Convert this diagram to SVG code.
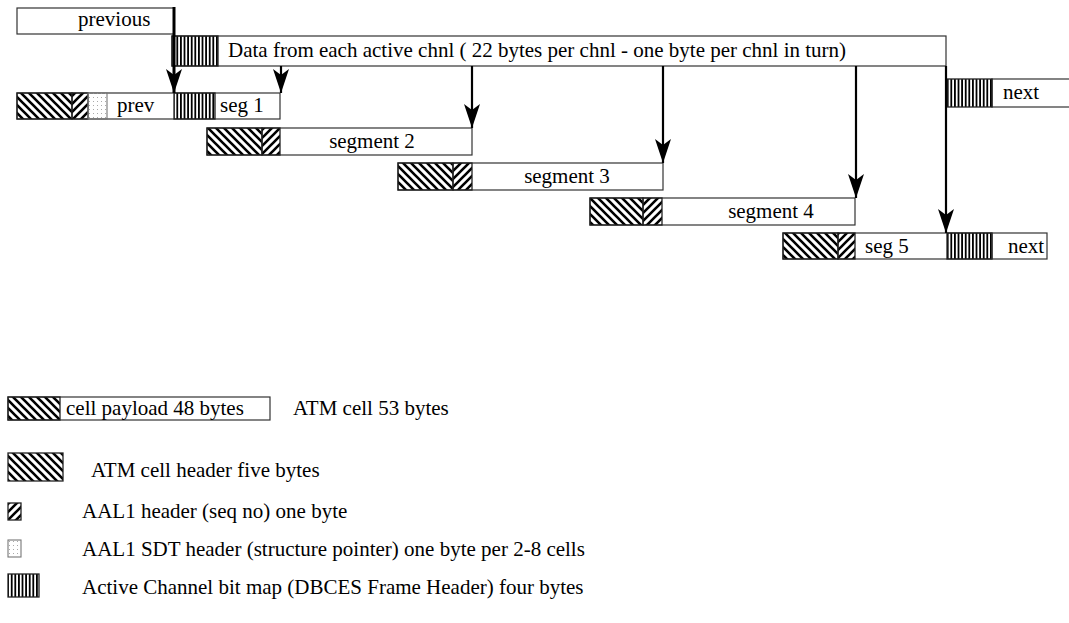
<svg xmlns="http://www.w3.org/2000/svg" width="1069" height="623" viewBox="0 0 1069 623">
<defs>
<pattern id="hb" patternUnits="userSpaceOnUse" width="8" height="8">
<path d="M-2,-2 L10,10 M-2,6 L2,10 M6,-2 L10,2" stroke="#000" stroke-width="2.6"/>
</pattern>
<pattern id="hf" patternUnits="userSpaceOnUse" width="8" height="8">
<path d="M-2,10 L10,-2 M-2,2 L2,-2 M6,10 L10,6" stroke="#000" stroke-width="2.6"/>
</pattern>
<pattern id="vb" patternUnits="userSpaceOnUse" width="3.6" height="10">
<rect x="0" y="0" width="1.8" height="10" fill="#000"/>
</pattern>
<pattern id="dt" patternUnits="userSpaceOnUse" width="4" height="4">
<rect x="1" y="1" width="1" height="1" fill="#aaa"/>
</pattern>
<marker id="ah" markerUnits="userSpaceOnUse" markerWidth="26" markerHeight="18" refX="24" refY="8" orient="auto" overflow="visible">
<path d="M0,0 L24,8 L0,16 L6,8 z" fill="#000"/>
</marker>
<style>
text{font-family:"Liberation Serif","Times New Roman",serif;font-size:21px;fill:#000}
.box{fill:#fff;stroke:#333;stroke-width:1.2}
.atm{fill:url(#hb);stroke:#222;stroke-width:1.3}
.aal{fill:url(#hf);stroke:#222;stroke-width:1.3}
.bm{fill:url(#vb);stroke:#222;stroke-width:1.3}
.sdt{fill:url(#dt);stroke:#777;stroke-width:1.1}
.arr{stroke:#000;stroke-width:2.2;fill:none;marker-end:url(#ah)}
.mid{text-anchor:middle}
</style>
</defs>
<rect width="1069" height="623" fill="#fff"/>

<g id="previous">
<rect class="box" x="17" y="8" width="157" height="26"/>
<text x="78" y="26">previous</text>
</g>

<g id="data">
<rect class="box" x="172" y="36" width="774" height="30"/>
<rect class="bm" x="172" y="36" width="46" height="30"/>
<text x="228" y="57">Data from each active chnl ( 22 bytes per chnl - one byte per chnl in turn)</text>
</g>

<g id="next-top">
<rect class="box" x="992" y="79" width="90" height="28"/>
<rect class="bm" x="947" y="79" width="45" height="28"/>
<text x="1003" y="99">next</text>
</g>

<g id="row1">
<rect class="box" x="17" y="93" width="263" height="26"/>
<rect class="atm" x="17" y="93" width="55" height="26"/>
<rect class="aal" x="72" y="93" width="16" height="26"/>
<rect class="sdt" x="88" y="93" width="19" height="26"/>
<rect class="bm" x="174" y="93" width="41" height="26"/>
<text x="117" y="112">prev</text>
<text x="220" y="112">seg 1</text>
</g>

<g id="segment2">
<rect class="box" x="207" y="128" width="265" height="27"/>
<rect class="atm" x="207" y="128" width="55" height="27"/>
<rect class="aal" x="262" y="128" width="18" height="27"/>
<text class="mid" x="372" y="148">segment 2</text>
</g>

<g id="segment3">
<rect class="box" x="398" y="163" width="265" height="27"/>
<rect class="atm" x="398" y="163" width="55" height="27"/>
<rect class="aal" x="453" y="163" width="19" height="27"/>
<text class="mid" x="567" y="183">segment 3</text>
</g>

<g id="segment4">
<rect class="box" x="590" y="198" width="265" height="27"/>
<rect class="atm" x="590" y="198" width="53" height="27"/>
<rect class="aal" x="643" y="198" width="19" height="27"/>
<text class="mid" x="771" y="218">segment 4</text>
</g>

<g id="segment5">
<rect class="box" x="783" y="233" width="264" height="26"/>
<rect class="atm" x="783" y="233" width="55" height="26"/>
<rect class="aal" x="838" y="233" width="17" height="26"/>
<rect class="bm" x="947" y="233" width="45" height="26"/>
<line x1="992" y1="233" x2="992" y2="259" stroke="#333" stroke-width="1.2"/>
<text x="865" y="253">seg 5</text>
<text x="1008" y="253">next</text>
</g>

<g id="connectors">
<line x1="174" y1="7" x2="174" y2="93" stroke="#000" stroke-width="3" marker-end="url(#ah)"/>
<line class="arr" x1="281" y1="66" x2="281" y2="93"/>
<line class="arr" x1="472" y1="66" x2="472" y2="128"/>
<line class="arr" x1="663" y1="66" x2="663" y2="163"/>
<line class="arr" x1="856" y1="66" x2="856" y2="198"/>
<line class="arr" x1="946" y1="66" x2="946" y2="233"/>
</g>

<g id="legend-cell">
<rect class="box" x="8" y="397" width="262" height="23"/>
<rect class="atm" x="8" y="397" width="52" height="23"/>
<text x="66" y="415">cell payload 48 bytes</text>
<text x="293" y="415">ATM cell 53 bytes</text>
</g>
<g id="legend-atm">
<rect class="atm" x="8" y="453" width="55" height="28"/>
<text x="91" y="477">ATM cell header five bytes</text>
</g>
<g id="legend-aal1">
<rect class="aal" x="8" y="503" width="13" height="17"/>
<text x="82" y="518">AAL1 header (seq no) one byte</text>
</g>
<g id="legend-sdt">
<rect class="sdt" x="8" y="540" width="13" height="17"/>
<text x="82" y="556">AAL1 SDT header (structure pointer) one byte per 2-8 cells</text>
</g>
<g id="legend-bitmap">
<rect class="bm" x="8" y="574" width="31" height="23"/>
<text x="82" y="594">Active Channel bit map (DBCES Frame Header) four bytes</text>
</g>
</svg>
